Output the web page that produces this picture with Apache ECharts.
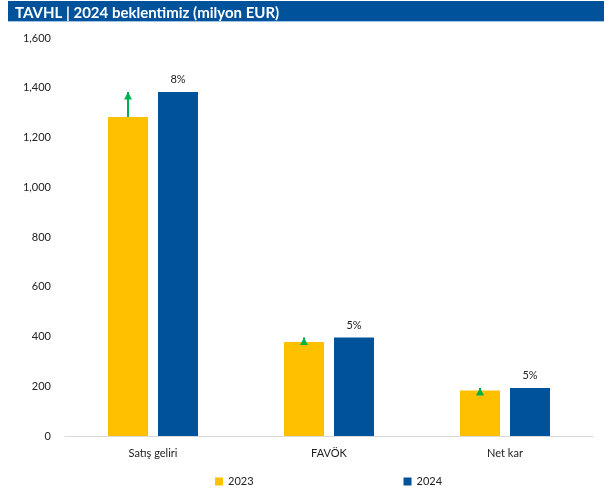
<!DOCTYPE html>
<html>
<head>
<meta charset="utf-8">
<script src="https://cdn.jsdelivr.net/npm/echarts@6/dist/echarts.min.js"></script>
<style>
  html, body { margin: 0; padding: 0; background: #fff; }
  #chart { width: 604px; height: 495px; }
</style>
</head>
<body>
<div id="chart"></div>
<script>
// TAVHL revenue, EBITDA and net income: 2023 actuals vs 2024 estimate (million EUR)
const categories = ['Satış geliri', 'FAVÖK', 'Net kar'];
const values2023 = [1282, 378, 183];
const values2024 = [1383, 396, 193];
const growthLabels = ['8%', '5%', '5%'];
const yTicks = [0, 200, 400, 600, 800, 1000, 1200, 1400, 1600];

const FONT = 'Lato, "Liberation Sans", sans-serif';
const chart = echarts.init(document.getElementById('chart'), null, { renderer: 'canvas' });

// Growth arrows drawn from each 2023 bar top up to the 2024 level
const arrowLines = categories.map((c, i) => [
  { coord: [i, values2023[i]] },
  { coord: [i, values2024[i]] }
]);

// Arrowhead whose tip sits at the symbol centre (the upper half of its box is empty)
const ARROW_HEAD = 'path://M5,0 L5,0 M5,10 L10,20 L0,20 Z';

chart.setOption({
  animation: false,
  backgroundColor: '#ffffff',
  title: {
    text: 'TAVHL | 2024 beklentimiz (milyon EUR)',
    left: 10,
    top: 1,
    textStyle: { color: '#ffffff', fontFamily: FONT, fontWeight: 'bold', fontSize: 15 }
  },
  graphic: [
    { type: 'rect', z: -1, shape: { x: 8, y: 1, width: 596, height: 20 }, style: { fill: '#00539B' } },
    { type: 'rect', z: -1, shape: { x: 8, y: 21, width: 596, height: 1 }, style: { fill: '#9DC3E6' } }
  ],
  grid: { left: 65, right: 11, top: 38, bottom: 59, containLabel: false },
  legend: {
    data: ['2023', '2024'],
    top: 471,
    left: 210,
    itemWidth: 8,
    itemHeight: 8,
    itemGap: 150,
    icon: 'rect',
    textStyle: { fontFamily: FONT, fontSize: 11, color: '#222' }
  },
  xAxis: {
    type: 'category',
    data: categories,
    axisLine: { lineStyle: { color: '#D9D9D9', width: 1 } },
    axisTick: { show: false },
    axisLabel: { fontFamily: FONT, fontSize: 11, color: '#222', margin: 12 }
  },
  yAxis: {
    type: 'value',
    min: yTicks[0],
    max: yTicks[yTicks.length - 1],
    interval: yTicks[1] - yTicks[0],
    axisLine: { show: false },
    axisTick: { show: false },
    splitLine: { show: false },
    axisLabel: {
      fontFamily: FONT, fontSize: 11, color: '#222', margin: 14,
      formatter: v => v.toLocaleString('en-US')
    }
  },
  series: [
    {
      name: '2023',
      type: 'bar',
      data: values2023,
      barWidth: 40,
      barGap: '25%',
      itemStyle: { color: '#FFC000' },
      markLine: {
        silent: true,
        symbol: ['none', ARROW_HEAD],
        symbolSize: [8, 15],
        label: { show: false },
        lineStyle: { color: '#00B050', width: 2, type: 'solid' },
        data: arrowLines
      }
    },
    {
      name: '2024',
      type: 'bar',
      data: values2024,
      barWidth: 40,
      itemStyle: { color: '#00539B' },
      label: {
        show: true,
        position: 'top',
        distance: 7,
        fontFamily: FONT,
        fontSize: 11,
        color: '#222',
        formatter: p => growthLabels[p.dataIndex]
      }
    }
  ]
});
</script>
</body>
</html>
